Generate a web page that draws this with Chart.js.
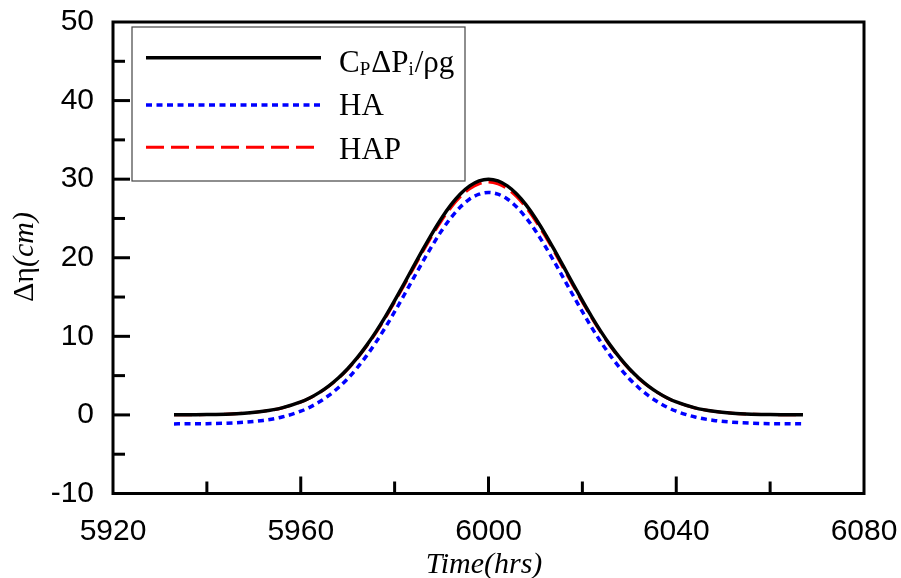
<!DOCTYPE html>
<html>
<head>
<meta charset="utf-8">
<script src="https://cdn.jsdelivr.net/npm/chart.js@4"></script>
<style>
  body { margin: 0; background: #fff; }
  canvas { display: block; }
</style>
</head>
<body>
<canvas id="surgeChart" width="901" height="578"></canvas>
<script>
// data
const timeHrs = [5933, 5936, 5940, 5944, 5948, 5952, 5956, 5960, 5962, 5964, 5966, 5968, 5970, 5972, 5974, 5976, 5978, 5980, 5982, 5984, 5986, 5988, 5990, 5992, 5994, 5996, 5998,
    6000,
    6002, 6004, 6006, 6008, 6010, 6012, 6014, 6016, 6018, 6020, 6022, 6024, 6026, 6028, 6030, 6032, 6034, 6036, 6038, 6040, 6044, 6048, 6052, 6056, 6060, 6064, 6067];

const pressureEta = [0.01, 0.03, 0.04, 0.10, 0.22, 0.46, 0.90, 1.65, 2.19, 2.87, 3.70, 4.69, 5.87, 7.25, 8.82, 10.57, 12.48, 14.54, 16.68, 18.87, 21.03, 23.11, 25.03, 26.72, 28.11, 29.14, 29.78,
    30.00,
    29.78, 29.14, 28.11, 26.72, 25.03, 23.11, 21.03, 18.87, 16.68, 14.54, 12.48, 10.57, 8.82, 7.25, 5.87, 4.69, 3.70, 2.87, 2.19, 1.65, 0.90, 0.46, 0.22, 0.10, 0.04, 0.03, 0.01];

const haEta = [-1.14, -1.12, -1.11, -1.05, -0.93, -0.70, -0.27, 0.47, 1.00, 1.67, 2.48, 3.46, 4.61, 5.97, 7.51, 9.23, 11.11, 13.13, 15.23, 17.38, 19.50, 21.54, 23.43, 25.09, 26.45, 27.47, 28.09,
    28.31,
    28.09, 27.47, 26.45, 25.09, 23.43, 21.54, 19.50, 17.38, 15.23, 13.13, 11.11, 9.23, 7.51, 5.97, 4.61, 3.46, 2.48, 1.67, 1.00, 0.47, -0.27, -0.70, -0.93, -1.05, -1.11, -1.12, -1.14];

const hapEta = [0.01, 0.03, 0.04, 0.10, 0.22, 0.45, 0.89, 1.63, 2.16, 2.84, 3.66, 4.63, 5.80, 7.16, 8.71, 10.44, 12.33, 14.37, 16.48, 18.64, 20.78, 22.83, 24.73, 26.40, 27.77, 28.79, 29.42,
    29.64,
    29.42, 28.79, 27.77, 26.40, 24.73, 22.83, 20.78, 18.64, 16.48, 14.37, 12.33, 10.44, 8.71, 7.16, 5.80, 4.63, 3.66, 2.84, 2.16, 1.63, 0.89, 0.45, 0.22, 0.10, 0.04, 0.03, 0.01];

const xRange = [5920, 6080];
const yRange = [-10, 50];

function toPoints(ys) {
    return timeHrs.map((t, i) => ({ x: t, y: ys[i] }));
}

// frame, inward ticks, axis titles and legend
const framePlugin = {
    id: 'frame',
    afterDraw(chart) {
        const ctx = chart.ctx;
        const a = chart.chartArea;
        const xs = chart.scales.x;
        const ys = chart.scales.y;
        ctx.save();

        // ticks pointing into the plot
        ctx.strokeStyle = '#000';
        ctx.lineWidth = 3;
        for (let v = xRange[0] + 20; v < xRange[1]; v += 20) {
            const px = xs.getPixelForValue(v);
            const len = v % 40 === 0 ? 17 : 12;
            ctx.beginPath();
            ctx.moveTo(px, a.bottom);
            ctx.lineTo(px, a.bottom - len);
            ctx.stroke();
        }
        for (let v = yRange[0] + 5; v < yRange[1]; v += 5) {
            const py = ys.getPixelForValue(v);
            const len = v % 10 === 0 ? 17 : 12;
            ctx.beginPath();
            ctx.moveTo(a.left, py);
            ctx.lineTo(a.left + len, py);
            ctx.stroke();
        }
        ctx.strokeRect(a.left, a.top, a.right - a.left, a.bottom - a.top);

        // axis titles
        ctx.fillStyle = '#000';
        ctx.textBaseline = 'alphabetic';
        ctx.font = 'italic 30px "Liberation Serif"';
        ctx.textAlign = 'center';
        ctx.fillText('Time(hrs)', 484, 573);

        ctx.save();
        ctx.translate(33, 257);
        ctx.rotate(-Math.PI / 2);
        ctx.font = '30px "Liberation Serif"';
        const w1 = ctx.measureText('Δη').width;
        ctx.font = 'italic 30px "Liberation Serif"';
        const w2 = ctx.measureText('(cm)').width;
        let x0 = -(w1 + w2) / 2;
        ctx.textAlign = 'left';
        ctx.font = '30px "Liberation Serif"';
        ctx.fillText('Δη', x0, 0);
        ctx.font = 'italic 30px "Liberation Serif"';
        ctx.fillText('(cm)', x0 + w1, 0);
        ctx.restore();

        // legend
        ctx.fillStyle = '#fff';
        ctx.fillRect(132, 27, 333, 154);
        ctx.strokeStyle = '#444';
        ctx.lineWidth = 1.2;
        ctx.strokeRect(132, 27, 333, 154);

        const rows = [57.7, 105, 147.3];
        const bases = [72, 115, 159];
        chart.data.datasets.forEach((ds, i) => {
            ctx.strokeStyle = ds.borderColor;
            ctx.lineWidth = ds.borderWidth;
            ctx.setLineDash(ds.borderDash || []);
            ctx.beginPath();
            ctx.moveTo(146, rows[i]);
            ctx.lineTo(321, rows[i]);
            ctx.stroke();
        });
        ctx.setLineDash([]);

        ctx.fillStyle = '#000';
        ctx.textAlign = 'left';
        const parts = [
            ['C', 0], ['P', 1], ['ΔP', 0], ['i', 1], ['/ρg', 0]
        ];
        let tx = 339;
        parts.forEach(([s, sub]) => {
            ctx.font = sub ? '19px "Liberation Serif"' : '31px "Liberation Serif"';
            ctx.fillText(s, tx, bases[0] + (sub ? 3 : 0));
            tx += ctx.measureText(s).width + (sub ? 1 : 0);
        });
        ctx.font = '31px "Liberation Serif"';
        ctx.fillText(chart.data.datasets[1].label, 339, bases[1]);
        ctx.fillText(chart.data.datasets[2].label, 339, bases[2]);

        ctx.restore();
    }
};

const ctx = document.getElementById('surgeChart').getContext('2d');
new Chart(ctx, {
    type: 'line',
    data: {
        datasets: [
            {
                label: 'CPΔPi/ρg',
                data: toPoints(pressureEta),
                borderColor: '#000000',
                borderWidth: 3.5
            },
            {
                label: 'HA',
                data: toPoints(haEta),
                borderColor: '#0000ff',
                borderWidth: 3.5,
                borderDash: [6, 4.5]
            },
            {
                label: 'HAP',
                data: toPoints(hapEta),
                borderColor: '#ff0000',
                borderWidth: 3,
                borderDash: [18, 7]
            }
        ]
    },
    options: {
        responsive: false,
        animation: false,
        elements: {
            point: { radius: 0 },
            line: { cubicInterpolationMode: 'monotone', fill: false }
        },
        layout: { padding: { left: 0, right: 37, top: 22, bottom: 0 } },
        plugins: {
            legend: { display: false },
            tooltip: { enabled: false }
        },
        scales: {
            x: {
                type: 'linear',
                min: xRange[0],
                max: xRange[1],
                grid: { display: false, drawTicks: false },
                border: { display: false },
                ticks: {
                    stepSize: 40,
                    padding: 20,
                    color: '#000',
                    maxRotation: 0,
                    font: { family: 'Liberation Sans', size: 30 },
                    callback: v => String(v)
                },
                afterFit(scale) {
                    scale.height = 84.5;
                    scale.paddingLeft = 0;
                    scale.paddingRight = 0;
                }
            },
            y: {
                min: yRange[0],
                max: yRange[1],
                grid: { display: false, drawTicks: false },
                border: { display: false },
                ticks: {
                    stepSize: 10,
                    padding: 19,
                    color: '#000',
                    font: { family: 'Liberation Sans', size: 30 },
                    callback: v => String(v)
                },
                afterFit(scale) {
                    scale.width = 113;
                    scale.paddingTop = 0;
                    scale.paddingBottom = 0;
                }
            }
        }
    },
    plugins: [framePlugin]
});
</script>
</body>
</html>
